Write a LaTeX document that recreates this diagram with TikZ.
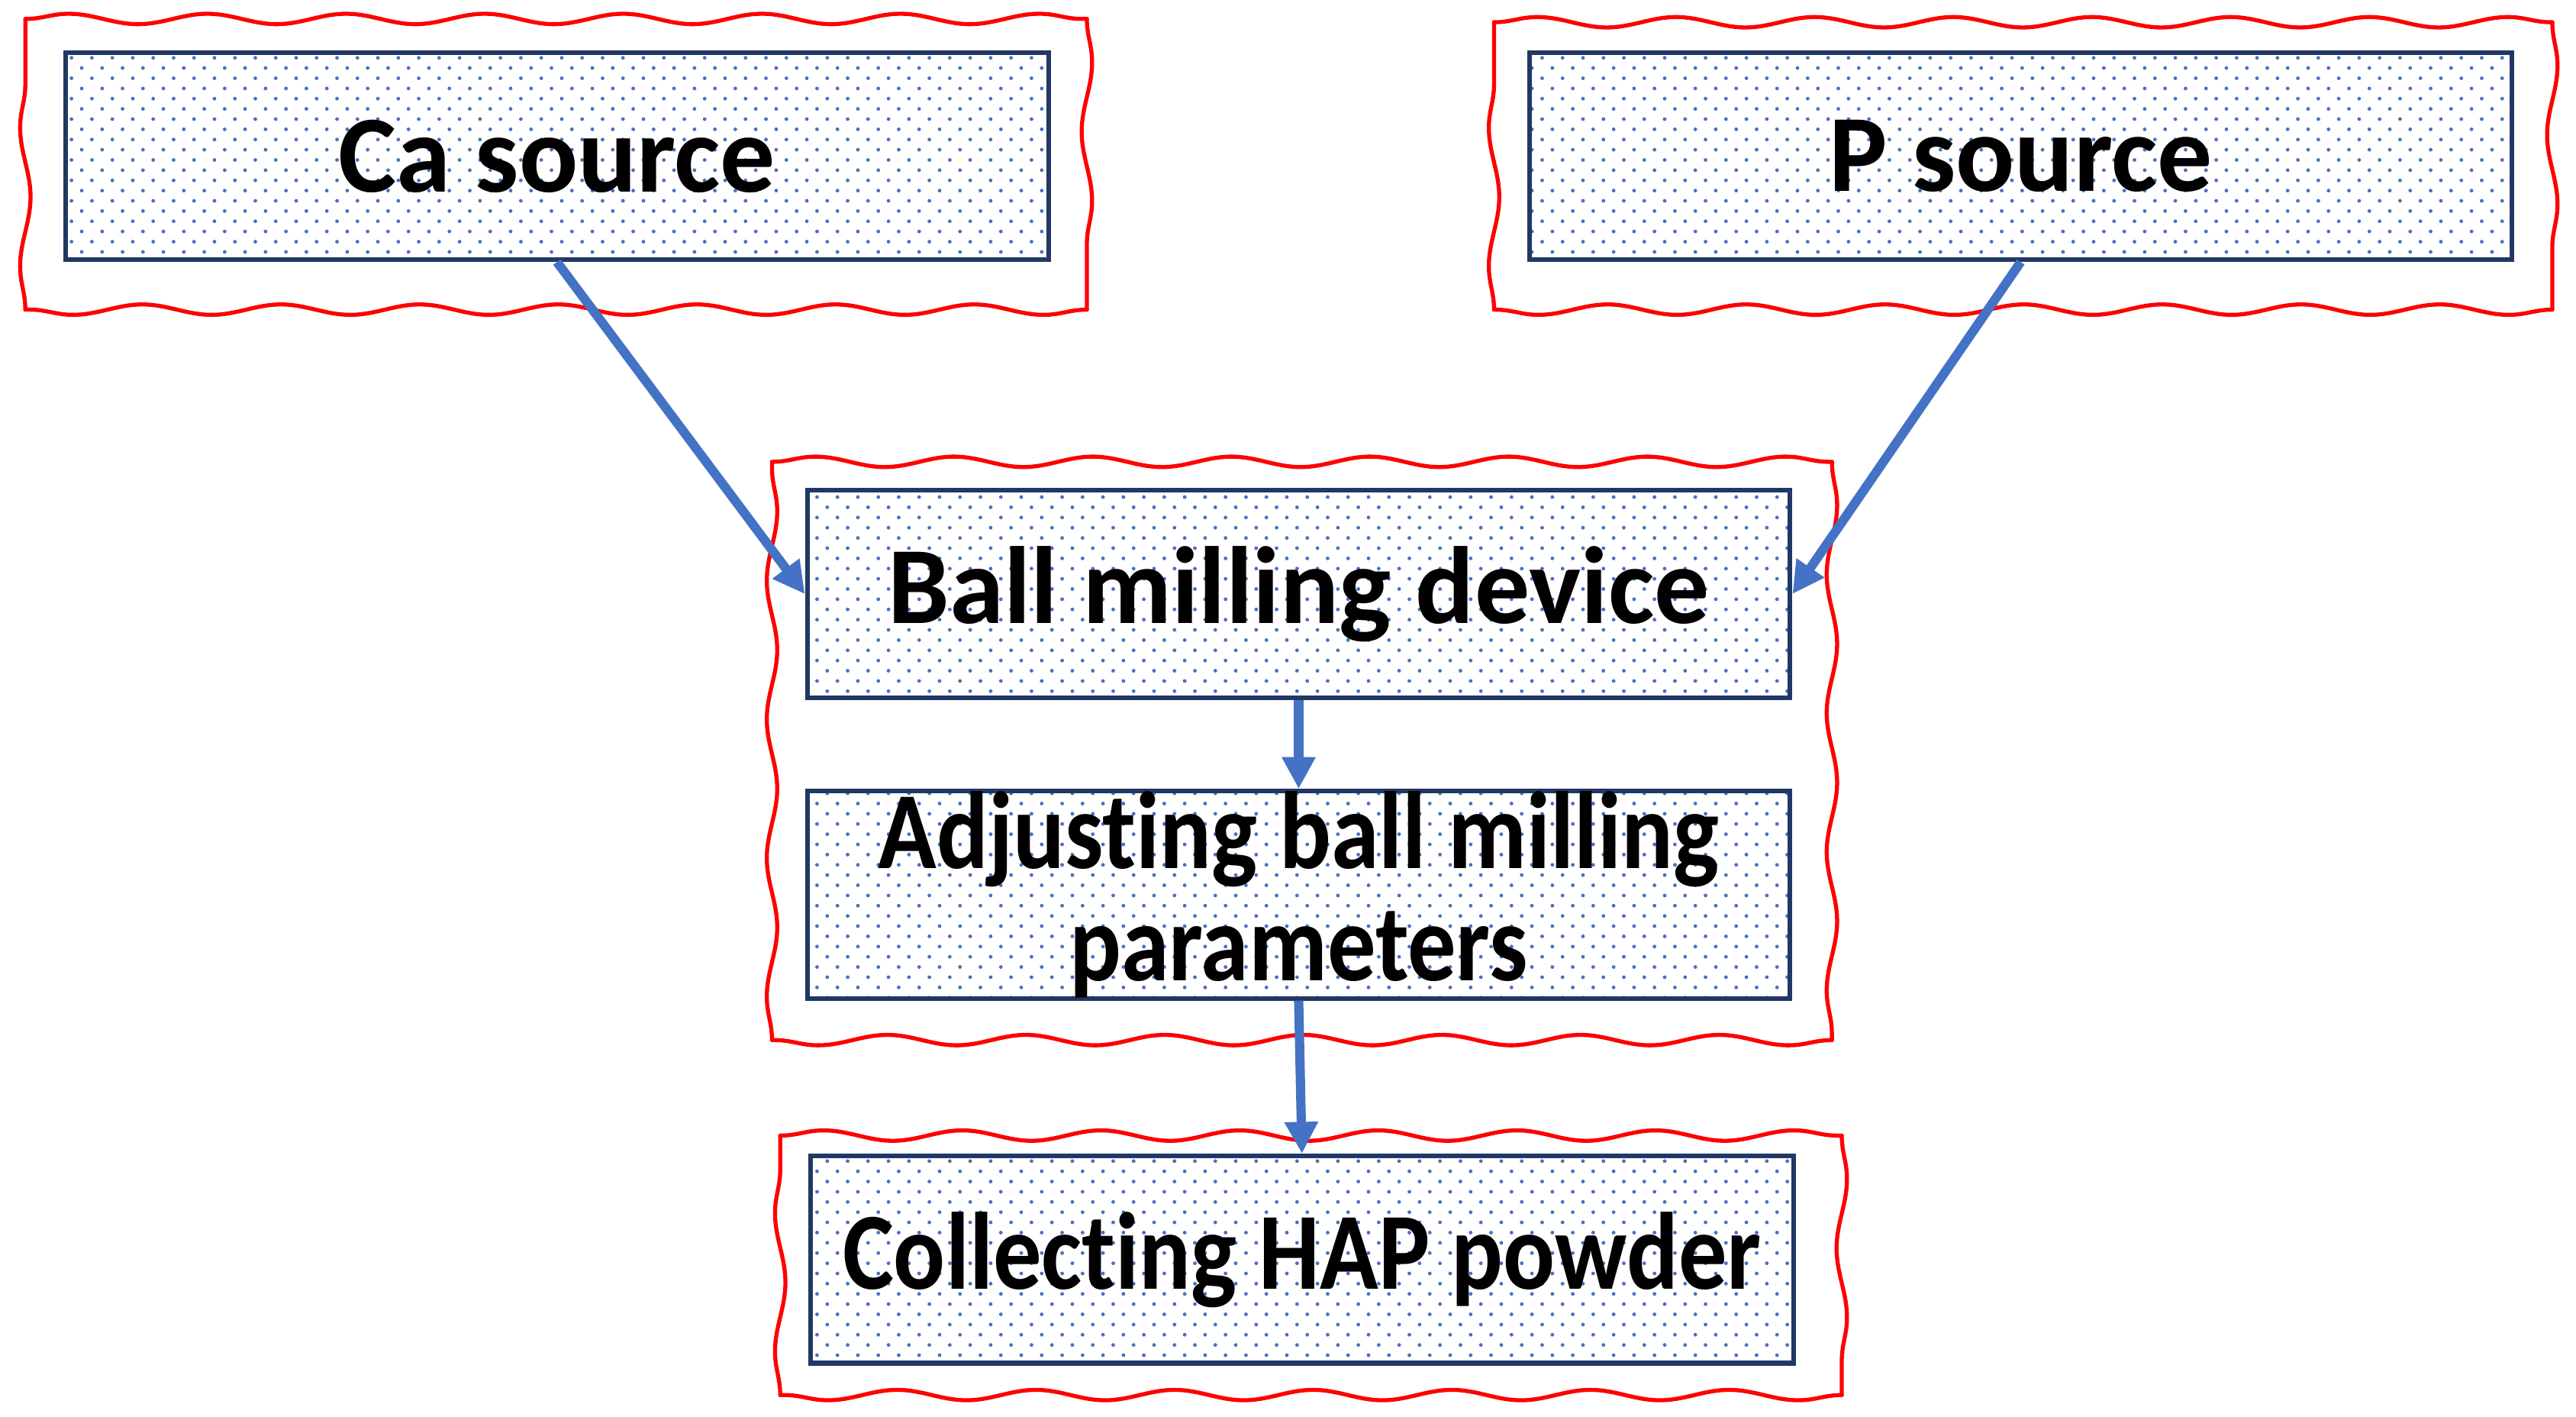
\documentclass[tikz,border=0pt]{standalone}
\usepackage{fontspec}
\setmainfont{Carlito}[Ligatures=NoCommon]
\usetikzlibrary{arrows.meta,patterns.meta,decorations.pathmorphing,calc}
\definecolor{flowblue}{RGB}{68,114,196}
\definecolor{navy}{RGB}{32,56,100}
\definecolor{sketchred}{RGB}{255,0,0}
\newcommand{\narrow}[1]{\scalebox{0.88}[1]{#1}}
% wavy red frame, one side at a time
\newcommand{\sketchframe}[2]{%
  \draw[sketch] (#1) -- (#1 -| #2);
  \draw[sketch] (#1 -| #2) -- (#2);
  \draw[sketch] (#2) -- (#2 -| #1);
  \draw[sketch] (#2 -| #1) -- (#1);}

\begin{document}
\begin{tikzpicture}[x=0.01cm,y=0.01cm]
    \tikzset{%
      stage/.style={rectangle, draw=navy, line width=0.8pt, inner sep=0pt,
        pattern={Dots[distance=2.5pt,angle=45,radius=0.32pt]}, pattern color=flowblue,
        minimum width=5.98cm, minimum height=1.26cm, align=center,
        font=\fontsize{19}{19.5}\selectfont\bfseries},
      sketch/.style={draw=sketchred, line width=0.7pt, line cap=round,
        decorate, decoration={snake, segment length=24pt, amplitude=0.9pt}},
      flow/.style={draw=flowblue, line width=1.6pt,
        -{Triangle[length=5.5pt,width=5.5pt]}},
    }
    \useasboundingbox (0,0) rectangle (1568,-862);

    % the two sources
    \node[stage] (ca) at (339,-95) {Ca source};
    \node[stage] (p) at (1230,-95) {P source};
    \coordinate (caA) at ($(ca.north west)+(-23,19)$);
    \coordinate (caB) at ($(ca.south east)+(22,-29)$);
    \coordinate (pA) at ($(p.north west)+(-20,17)$);
    \coordinate (pB) at ($(p.south east)+(23,-29)$);
    \sketchframe{caA}{caB}
    \sketchframe{pA}{pB}

    % milling
    \node[stage] (ball) at (790.5,-361.5) {Ball milling device};
    \node[stage] (adjust) at (790.5,-544.5) {\narrow{Adjusting ball milling}\\\narrow{parameters}};
    \coordinate (millA) at ($(ball.north west)+(-20,16)$);
    \coordinate (millB) at ($(adjust.south east)+(24,-24)$);
    \sketchframe{millA}{millB}

    % product
    \node[stage] (collect) at (792.5,-766.5) {\narrow{Collecting HAP powder}};
    \coordinate (colA) at ($(collect.north west)+(-17,11)$);
    \coordinate (colB) at ($(collect.south east)+(28,-18)$);
    \sketchframe{colA}{colB}

    \draw[flow] (ca.south) -- (ball.west);
    \draw[flow] (p.south) -- (ball.east);
    \draw[flow] (ball.south) -- (adjust.north);
    \draw[flow] (adjust.south) -- (collect.north);
\end{tikzpicture}
\end{document}
